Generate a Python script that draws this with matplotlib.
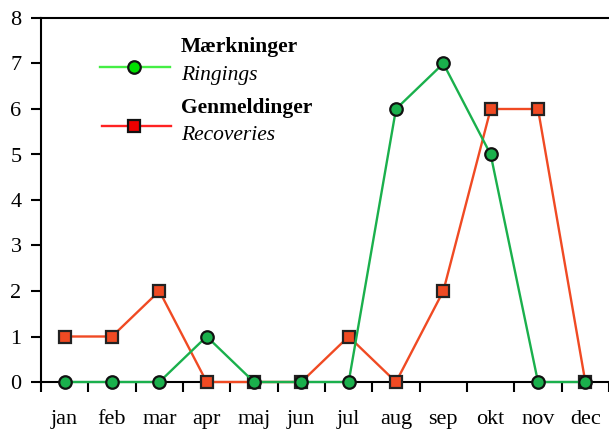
import matplotlib
matplotlib.use('Agg')
import matplotlib.pyplot as plt
import numpy as np

months = ['jan', 'feb', 'mar', 'apr', 'maj', 'jun', 'jul', 'aug', 'sep', 'okt', 'nov', 'dec']
ringings = [0, 0, 0, 1, 0, 0, 0, 6, 7, 5, 0, 0]
recoveries = [1, 1, 2, 0, 0, 0, 1, 0, 2, 6, 6, 0]

plt.rcParams['font.family'] = ['Liberation Serif', 'DejaVu Serif']

fig = plt.figure(figsize=(6.09, 4.34), dpi=100)
ax = fig.add_axes([41 / 609, 52 / 434, 568 / 609, 364 / 434])

x = np.arange(len(months))
ax.plot(x, recoveries, color='#f04a23', lw=1.7, marker='s', ms=8.5,
        mfc='#f04a23', mec='#222222', mew=1.6, clip_on=False, zorder=3)
ax.plot(x, ringings, color='#1ab04c', lw=1.7, marker='o', ms=9,
        mfc='#1ab04c', mec='#111111', mew=1.6, clip_on=False, zorder=4)

ax.set_xlim(-0.5, len(months) - 0.5)
ax.set_ylim(0, 8)
ax.set_yticks(range(0, 9))
ax.set_xticks(x)
ax.set_xticklabels(months)
ax.set_xticks(np.arange(-0.5, len(months) + 0.5, 1), minor=True)
ax.tick_params(axis='x', which='major', length=0, pad=20, labelsize=16)
ax.tick_params(axis='x', which='minor', length=7, width=1.5, direction='out')
ax.tick_params(axis='y', length=7, width=1.5, pad=7, labelsize=16)
ax.spines['right'].set_visible(False)
for s in ['left', 'bottom', 'top']:
    ax.spines[s].set_linewidth(1.5)

# legend drawn by hand
t = ax.transAxes
ax.plot([0.104, 0.227], [0.865, 0.865], color='#44ee44', lw=1.7, transform=t, clip_on=False)
ax.plot([0.164], [0.865], marker='o', ms=9, mfc='#00e000', mec='#111111', mew=1.6,
        transform=t, clip_on=False)
ax.plot([0.107, 0.229], [0.703, 0.703], color='#ff2222', lw=1.7, transform=t, clip_on=False)
ax.plot([0.164], [0.703], marker='s', ms=8.5, mfc='#ee0000', mec='#111111', mew=1.6,
        transform=t, clip_on=False)
ax.text(0.246, 0.920, 'Mærkninger', fontsize=15.5, fontweight='bold', va='center', transform=t)
ax.text(0.246, 0.843, 'Ringings', fontsize=15.5, style='italic', va='center', transform=t)
ax.text(0.246, 0.752, 'Genmeldinger', fontsize=15.5, fontweight='bold', va='center', transform=t)
ax.text(0.246, 0.676, 'Recoveries', fontsize=15.5, style='italic', va='center', transform=t)

fig.savefig('out.png', dpi=100)
